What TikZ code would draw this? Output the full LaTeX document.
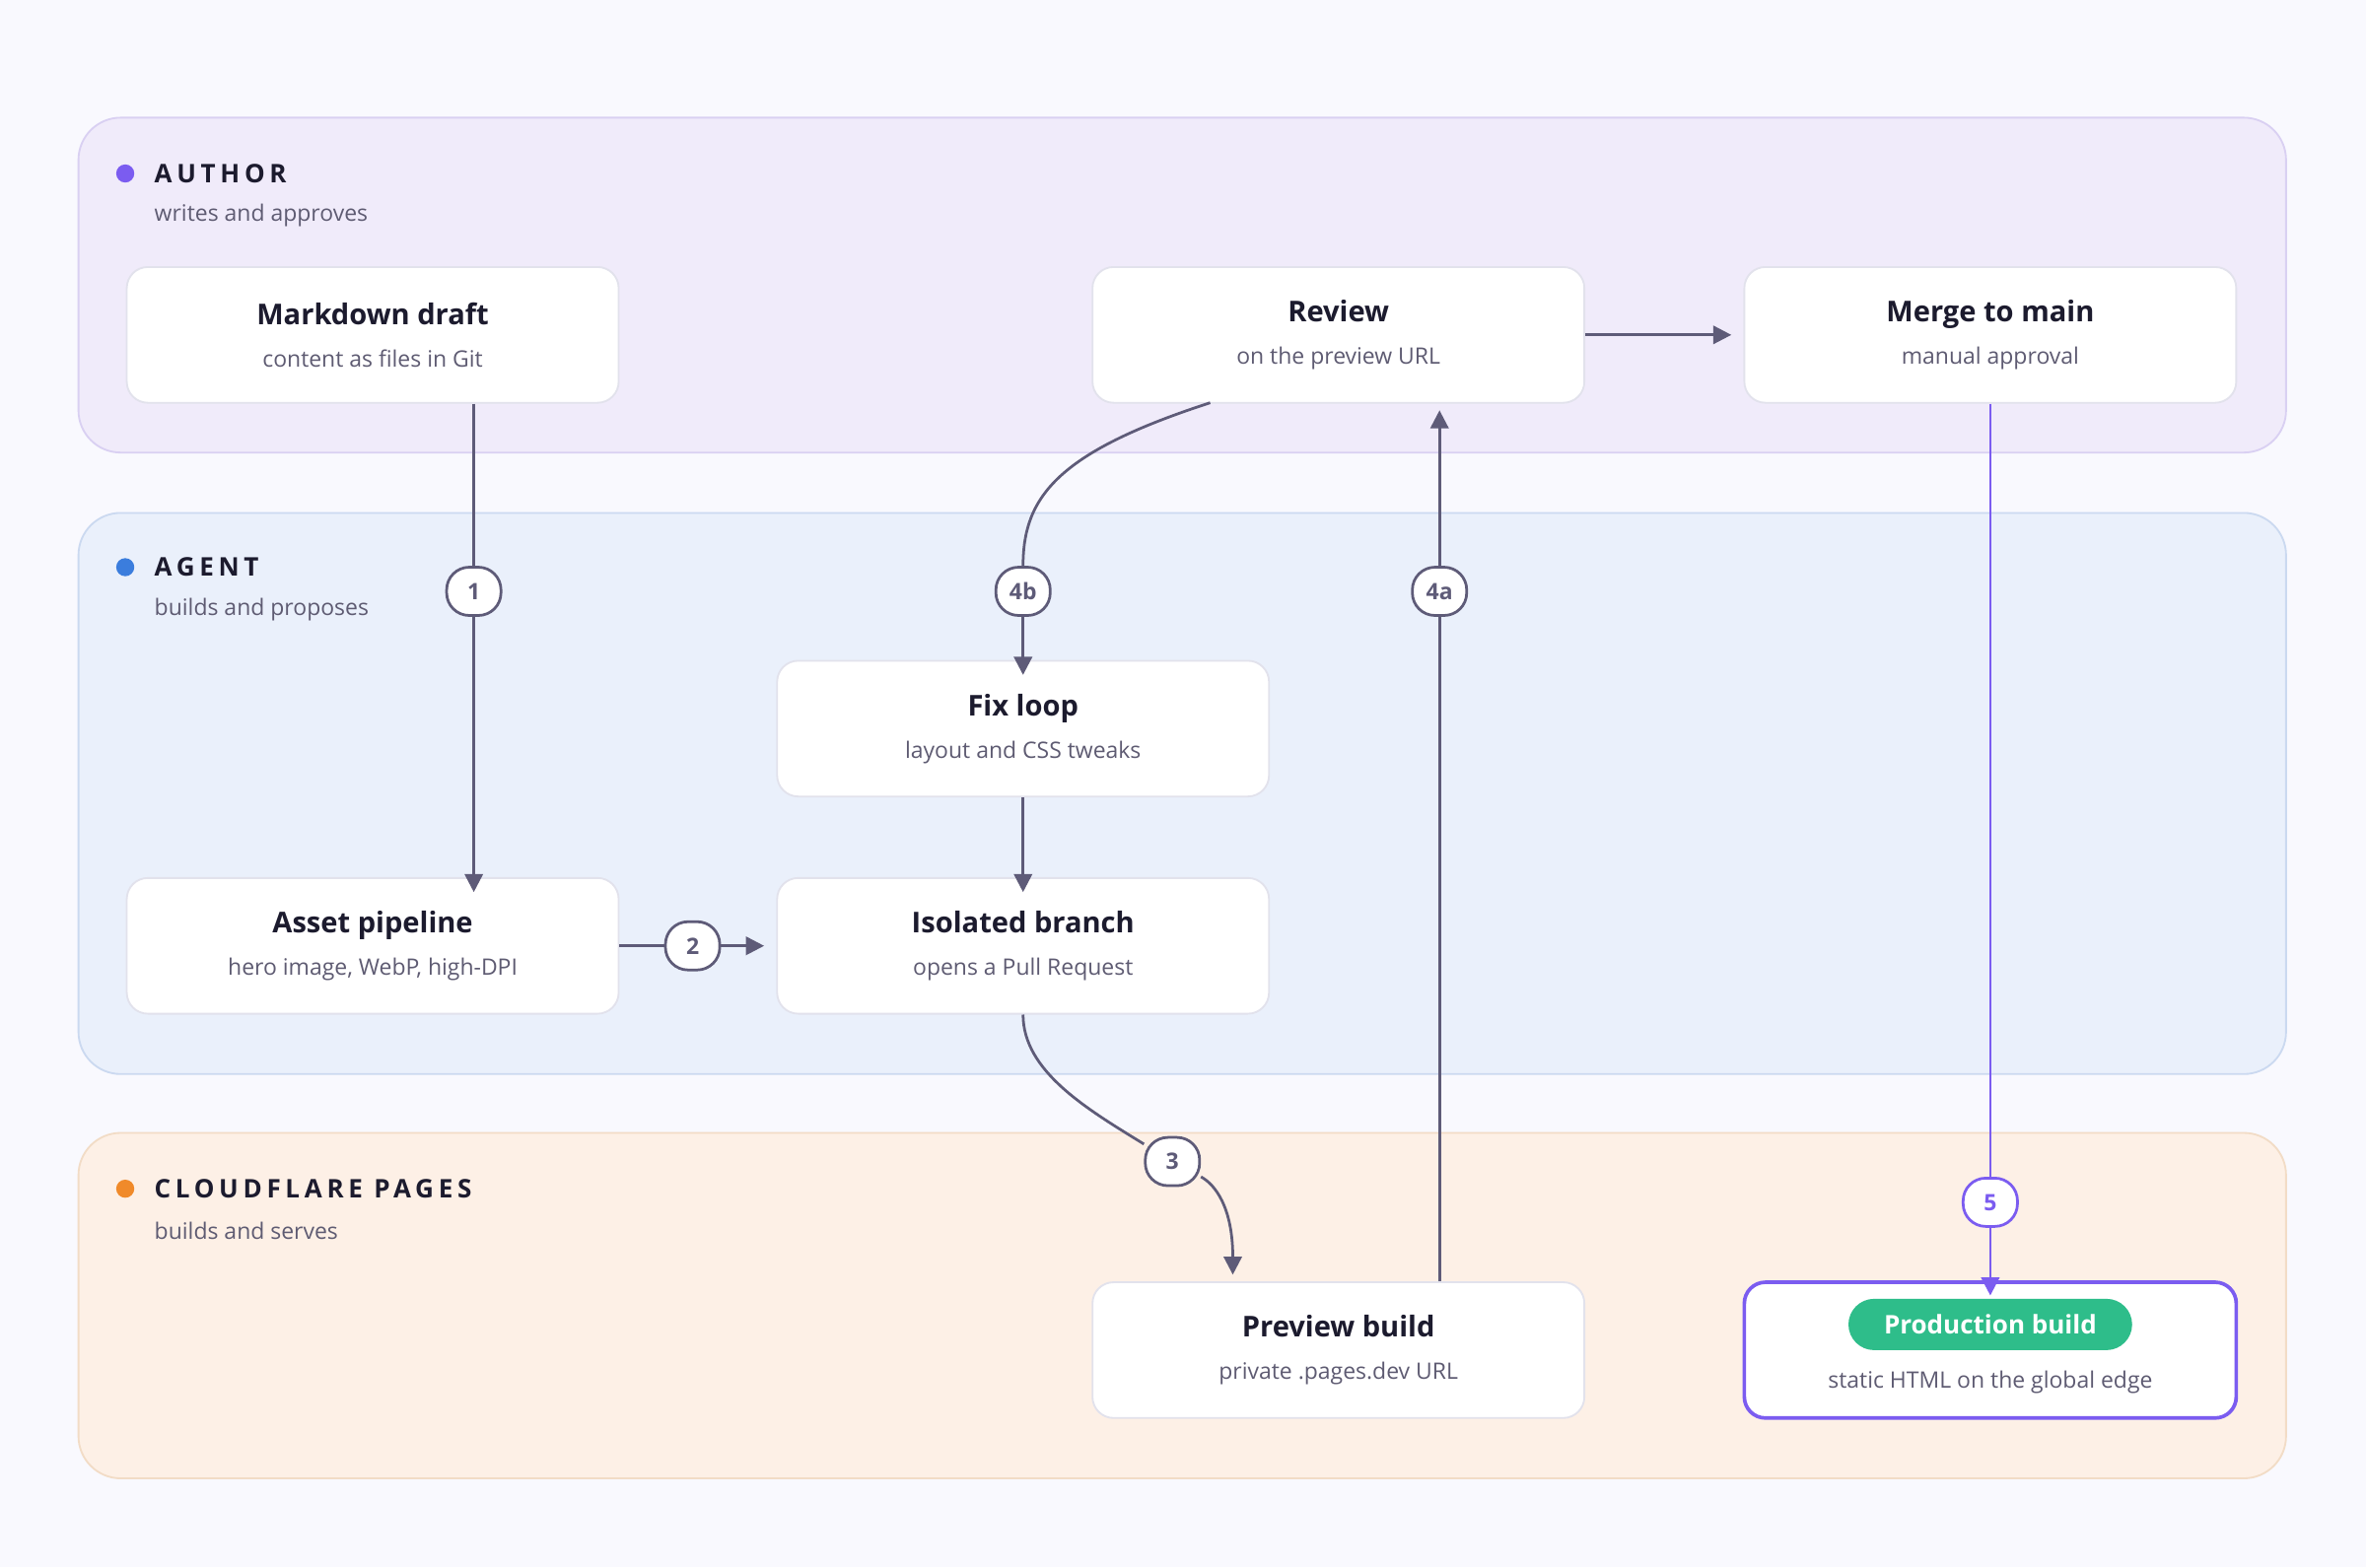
\documentclass[tikz,border=0pt]{standalone}
\usepackage{fontspec}
\setmainfont{Open Sans}
\usetikzlibrary{arrows.meta,positioning}
\definecolor{pagebg}{HTML}{F9F9FE}
\definecolor{authfill}{HTML}{F0EBFA}
\definecolor{authline}{HTML}{D9D0F2}
\definecolor{agfill}{HTML}{EAF0FB}
\definecolor{agline}{HTML}{CBD9F0}
\definecolor{cffill}{HTML}{FDF0E6}
\definecolor{cfline}{HTML}{F2DCC6}
\definecolor{authdot}{HTML}{7B5CF0}
\definecolor{agdot}{HTML}{3B7DDD}
\definecolor{cfdot}{HTML}{F08A2A}
\definecolor{edge}{HTML}{5E5B78}
\definecolor{boxline}{HTML}{E2E2EC}
\definecolor{titletext}{HTML}{1C1B2E}
\definecolor{subtext}{HTML}{5E5B72}
\definecolor{prodgreen}{HTML}{2EBD8A}
\tikzset{
lane/.style={rounded corners=14pt, line width=0.6pt},
stagebox/.style={draw=boxline, fill=white, rounded corners=7pt, line width=0.6pt,
  minimum width=163pt, minimum height=45pt, align=center, inner sep=0pt},
lab/.style={draw=edge, fill=white, rounded corners=7.5pt, line width=0.9pt,
  minimum width=18pt, minimum height=16pt, inner xsep=3pt, inner ysep=1.5pt,
  font=\fontsize{7.5}{8}\selectfont\bfseries, text=edge},
flow/.style={draw=edge, line width=0.9pt, -{Triangle[length=6pt,width=6pt]}},
plain/.style={draw=edge, line width=0.9pt},
}
\newcommand{\steptext}[2]{{\fontsize{9.5}{11}\selectfont\bfseries\color{titletext}#1}\\[2pt]{\fontsize{7.5}{9}\selectfont\color{subtext}#2}}
\newcommand{\lanehead}[4]{%
\fill[#4] (83,#1) circle (3pt);
\node[anchor=west, inner sep=0pt, font=\fontsize{8.5}{10}\selectfont\bfseries\addfontfeature{LetterSpace=18}, text=titletext] at (102,#1) {#2};
\node[anchor=west, inner sep=0pt, font=\fontsize{7.5}{9}\selectfont, text=subtext] at (102,#1+28) {#3};}
\begin{document}
\begin{tikzpicture}[x=0.5pt, y=-0.5pt]
\fill[pagebg] (0,0) rectangle (1568,1039);
% lanes
\draw[lane, fill=authfill, draw=authline] (52,78) rectangle (1515,300);
\draw[lane, fill=agfill, draw=agline] (52,340) rectangle (1515,712);
\draw[lane, fill=cffill, draw=cfline] (52,751) rectangle (1515,980);
\lanehead{115}{AUTHOR}{writes and approves}{authdot}
\lanehead{376}{AGENT}{builds and proposes}{agdot}
\lanehead{788}{CLOUDFLARE PAGES}{builds and serves}{cfdot}
% stages
\node[stagebox] (draft) at (247,222) {\steptext{Markdown draft}{content as files in Git}};
\node[stagebox] (review) at (887,222) {\steptext{Review}{on the preview URL}};
\node[stagebox] (merge) at (1319,222) {\steptext{Merge to main}{manual approval}};
\node[stagebox] (fix) at (678,483) {\steptext{Fix loop}{layout and CSS tweaks}};
\node[stagebox] (asset) at (247,627) {\steptext{Asset pipeline}{hero image, WebP, high-DPI}};
\node[stagebox] (branch) at (678,627) {\steptext{Isolated branch}{opens a Pull Request}};
\node[stagebox] (preview) at (887,895) {\steptext{Preview build}{private .pages.dev URL}};
\node[stagebox, draw=authdot, line width=1.2pt] (prod) at (1319,895) {};
\node[fill=prodgreen, rounded corners=8.5pt, minimum width=94pt, minimum height=17pt, inner sep=0pt,
  font=\fontsize{8.5}{10}\selectfont\bfseries, text=white] (prodtag) at (1319,878) {Production build};
\node[font=\fontsize{7.5}{9}\selectfont, text=subtext] (prodsub) at (1319,916) {static HTML on the global edge};
% step labels
\node[lab] (s1) at (314,392) {1};
\node[lab] (s2) at (459,627) {2};
\node[lab] (s3) at (777,770) {3};
\node[lab] (s4a) at (954,392) {4a};
\node[lab] (s4b) at (678,392) {4b};
\node[lab, draw=authdot, text=authdot] (s5) at (1319,797) {5};
\coordinate (revout) at (802,267);
\coordinate (revin) at (954,272);
\coordinate (previn) at (817,845);
% connectors
\draw[plain] (draft.south -| s1) -- (s1);
\draw[flow] (s1) -- ([yshift=-5pt]asset.north -| s1);
\draw[plain] (revout) .. controls (700,300) and (678,330) .. (s4b);
\draw[flow] (s4b) -- ([yshift=-5pt]fix.north);
\draw[plain] (preview.north -| s4a) -- (s4a);
\draw[flow] (s4a) -- (revin);
\draw[flow] (review) -- ([xshift=-4pt]merge.west);
\draw[flow] (fix) -- ([yshift=-5pt]branch.north);
\draw[plain] (asset) -- (s2);
\draw[flow] (s2) -- ([xshift=-4pt]branch.west);
\draw[plain] (branch.south) .. controls (678,710) and (720,735) .. (s3);
\draw[flow] (s3) .. controls (805,785) and (817,800) .. (previn);
\draw[plain, draw=authdot] (merge.south) -- (s5);
\draw[flow, draw=authdot] (s5) -- ([yshift=-5pt]prod.north);
\end{tikzpicture}
\end{document}
